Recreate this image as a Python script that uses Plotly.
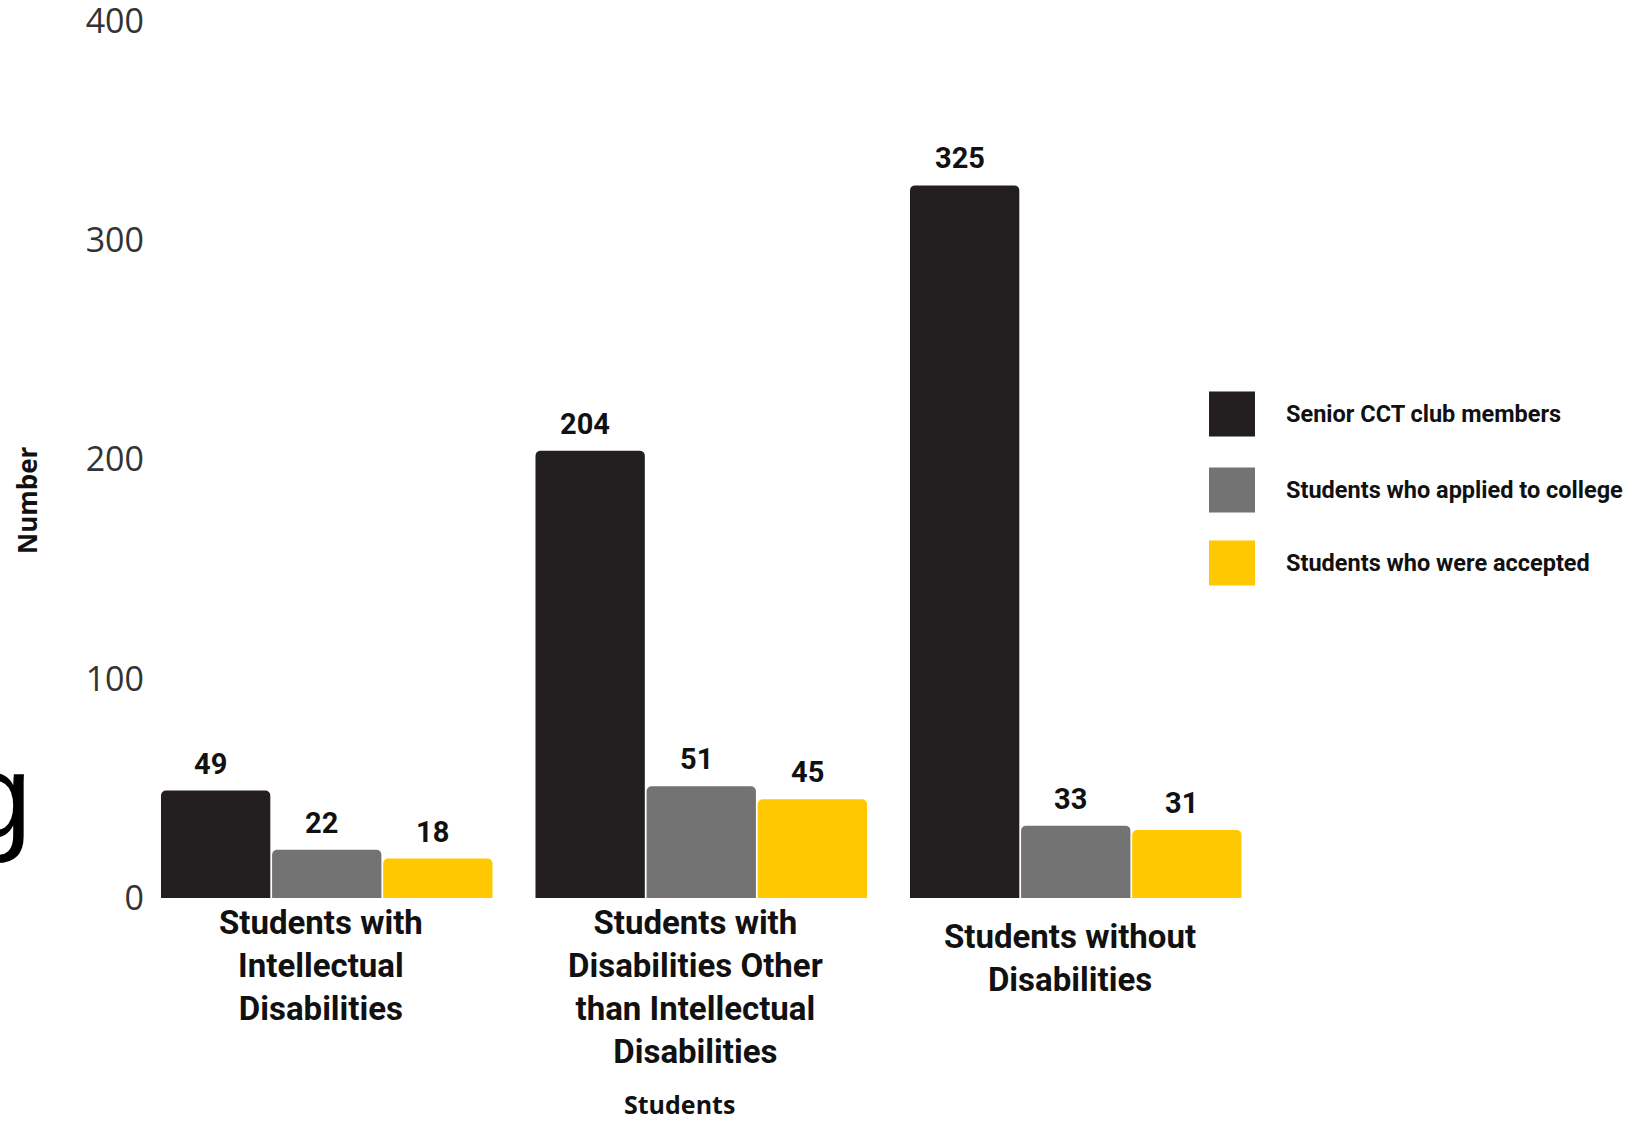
import plotly.graph_objects as go

# ---------------- data ----------------
categories = ["Students with<br>Intellectual<br>Disabilities",
              "Students with<br>Disabilities Other<br>than Intellectual<br>Disabilities",
              "Students without<br>Disabilities"]
series_names = ["Senior CCT club members",
                "Students who applied to college",
                "Students who were accepted"]
senior_members = [49, 204, 325]
applied = [22, 51, 33]
accepted = [18, 45, 31]
y_ticks = [0, 100, 200, 300, 400]

# ---------------- style ----------------
W, H = 1651, 1121
colors = ["#231f20", "#737373", "#ffc800"]
series_values = [senior_members, applied, accepted]

PX_LEFT, PX_RIGHT = 150, 1263      # plot area in pixels
PX_TOP, PX_BOTTOM = 20.5, 898
CAT_LEFT_EDGE = 139.5               # pixel of left edge of first category
CAT_W = (PX_RIGHT - CAT_LEFT_EDGE) / 3.0

def px(x):
    return x / W

def py(y):
    return 1 - y / H

BARGAP = 0.11
GROUPGAP = 0.016
slot = (1 - BARGAP) / 3.0

fig = go.Figure()
xs = list(range(len(categories)))
for i, (name, vals, col) in enumerate(zip(series_names, series_values, colors)):
    fig.add_trace(go.Bar(x=xs, y=vals, name=name, marker=dict(color=col, line=dict(width=0)),
                         showlegend=False, hoverinfo="y"))
    for j, v in enumerate(vals):
        fig.add_annotation(x=j + (i - 1) * slot, y=v, xref="x", yref="y",
                           text=f"<b>{v}</b>", showarrow=False, yanchor="middle",
                           yshift=27, xshift=-5,
                           font=dict(family="Roboto", size=29, color="#111111"))

# category labels
cat_yshift = [-3, -3, -17]
for j, c in enumerate(categories):
    fig.add_annotation(x=j, y=0, xref="x", yref="y", text=f"<b>{c}</b>", showarrow=False,
                       yanchor="top", xanchor="center", yshift=cat_yshift[j], xshift=-6,
                       align="center",
                       font=dict(family="Roboto", size=33, color="#111111"))

# legend (manual, big squares)
leg_y = [414, 490, 563]
for name, col, yc in zip(series_names, colors, leg_y):
    fig.add_shape(type="rect", xref="paper", yref="paper",
                  x0=px(1209), x1=px(1255), y0=py(yc - 22.5), y1=py(yc + 22.5),
                  fillcolor=col, line=dict(width=0))
    fig.add_annotation(xref="paper", yref="paper", x=px(1284), y=py(yc), text=f"<b>{name}</b>",
                       showarrow=False, xanchor="left", yanchor="middle",
                       font=dict(family="Roboto", size=23.5, color="#111111"))

# axis titles
fig.add_annotation(xref="paper", yref="paper", x=px(27), y=py(500), text="<b>Number</b>",
                   showarrow=False, textangle=-90, xanchor="center", yanchor="middle",
                   font=dict(family="Open Sans", size=26, color="#111111"))
fig.add_annotation(xref="paper", yref="paper", x=px(679), y=py(1104), text="<b>Students</b>",
                   showarrow=False, xanchor="center", yanchor="middle", borderpad=0,
                   font=dict(family="Open Sans", size=25, color="#111111"))

# stray partial glyph at left edge of the reference image
fig.add_annotation(xref="paper", yref="paper", x=px(34), y=py(796), text="g",
                   showarrow=False, xanchor="right", yanchor="middle",
                   font=dict(family="Liberation Sans", size=120, color="#000000"))

fig.update_layout(
    width=W, height=H,
    margin=dict(l=0, r=0, t=0, b=0, pad=0, autoexpand=False),
    paper_bgcolor="white", plot_bgcolor="white",
    barmode="group", bargap=BARGAP, bargroupgap=GROUPGAP, barcornerradius=5,
    xaxis=dict(domain=[px(PX_LEFT), px(PX_RIGHT)],
               range=[-0.5 + (PX_LEFT - CAT_LEFT_EDGE) / CAT_W, 2.5],
               showticklabels=False, showgrid=False, zeroline=False, showline=False,
               automargin=False, fixedrange=True),
    yaxis=dict(domain=[py(PX_BOTTOM), py(PX_TOP)], range=[0, 400.2],
               tickvals=y_ticks, ticktext=[str(t) for t in y_ticks],
               showgrid=False, zeroline=False, showline=False, ticks="",
               ticklabelstandoff=5, ticklabeloverflow="allow", automargin=False,
               tickfont=dict(family="Open Sans", size=34, color="#333333"),
               fixedrange=True),
    showlegend=False,
)

fig.write_html(
    "out.html",
    config={"displayModeBar": False},
    post_script=("document.documentElement.style.margin='0';"
                 "document.body.style.margin='0';"
                 "document.documentElement.style.overflow='hidden';"
                 "document.body.style.overflow='hidden';"),
)
